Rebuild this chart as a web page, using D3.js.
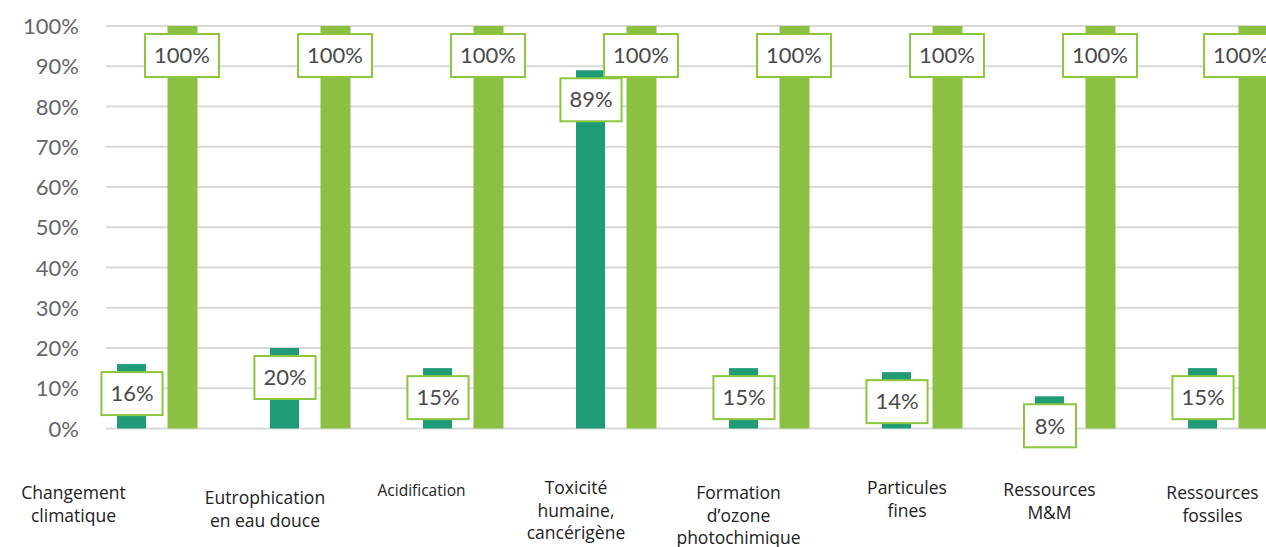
<!DOCTYPE html>
<html><head><meta charset="utf-8">
<script src="https://cdn.jsdelivr.net/npm/d3@7"></script>
<style>html,body{margin:0;padding:0;background:#fff;overflow:hidden}</style>
</head><body><svg id="c" width="1266" height="547"></svg>
<script>
// ---- data ----
const categories = [
  ["Changement", "climatique"],
  ["Eutrophication", "en eau douce"],
  ["Acidification"],
  ["Toxicité", "humaine,", "cancérigène"],
  ["Formation", "d’ozone", "photochimique"],
  ["Particules", "fines"],
  ["Ressources", "M&M"],
  ["Ressources", "fossiles"]
];
const seriesNames = ["Scénario", "Référence"];
const seriesA = [16, 20, 15, 89, 15, 14, 8, 15];
const seriesB = [100, 100, 100, 100, 100, 100, 100, 100];
const yTicks = [0, 10, 20, 30, 40, 50, 60, 70, 80, 90, 100];

// ---- layout (label placement, not data) ----
const labelLayout = [
  {cx: 73.5, y: 493, fs: 17.5},
  {cx: 265, y: 498, fs: 17.5},
  {cx: 421.5, y: 491, fs: 15.5},
  {cx: 576, y: 488, fs: 17.5},
  {cx: 738.5, y: 493, fs: 17.5},
  {cx: 907, y: 488, fs: 17.5},
  {cx: 1049.5, y: 490, fs: 17.5},
  {cx: 1212.5, y: 493, fs: 17.5}
];
const colors = ["#1f9b77", "#8bc043"];
const boxStroke = "#8cc63f";
const chartRight = 1278;

const svg = d3.select("#c");
const keys = categories.map((c, i) => "c" + i);
const x = d3.scaleBand().domain(keys).range([80.5, 80.5 + 153 * 8]);
const xi = d3.scaleBand().domain(seriesNames).range([36.5, 116.5]).paddingInner(0.4).paddingOuter(0);
const y = d3.scaleLinear().domain([0, 100]).range([428.5, 26]);

// gridlines
svg.append("g").selectAll("line").data(yTicks).join("line")
  .attr("x1", 106).attr("x2", 1266)
  .attr("y1", d => y(d)).attr("y2", d => y(d))
  .attr("stroke", "#d9d9d9").attr("stroke-width", 2);

// y axis labels
const yAxis = d3.axisLeft(y).tickValues(yTicks).tickFormat(d => d + "%").tickSize(0).tickPadding(0);
const ga = svg.append("g").attr("transform", "translate(79,0)").call(yAxis);
ga.select(".domain").remove();
ga.selectAll("text").attr("font-family", "Lato, sans-serif").attr("font-size", 22)
  .attr("fill", "#666666").attr("dy", "0.35em");

// bars
const rows = keys.map((k, i) => ({k, vals: [seriesA[i], seriesB[i]]}));
const bars = [];
rows.forEach(r => r.vals.forEach((v, j) => bars.push({k: r.k, s: seriesNames[j], j, v})));
svg.append("g").selectAll("rect").data(bars).join("rect")
  .attr("x", d => x(d.k) + xi(d.s) + (d.j === 1 ? 0.5 : 0))
  .attr("width", d => xi.bandwidth() - (d.j === 0 ? 1 : 0))
  .attr("y", d => y(d.v)).attr("height", d => y(0) - y(d.v))
  .attr("fill", d => colors[d.j]);

// value labels
const lg = svg.append("g");
bars.forEach(d => {
  let cx = x(d.k) + xi(d.s) + xi.bandwidth() / 2;
  const cy = y(d.v) + 29.5;
  const g = lg.append("g");
  const rect = g.append("rect");
  const t = g.append("text").attr("y", cy).attr("dy", "0.35em")
    .attr("text-anchor", "middle").attr("font-family", "Lato, sans-serif")
    .attr("font-size", 22).attr("fill", "#4a4a4a").text(d.v + "%");
  const bb = t.node().getBBox();
  const w = Math.max(bb.width + 18, 52);
  if (cx + w / 2 > chartRight) cx = chartRight - w / 2;
  t.attr("x", cx);
  rect.attr("x", cx - w / 2).attr("y", cy - 21.5).attr("width", w).attr("height", 43)
    .attr("fill", "#fff").attr("stroke", boxStroke).attr("stroke-width", 2);
});

// category labels
svg.append("g").selectAll("text").data(categories).join("text")
  .attr("font-family", "'Open Sans', sans-serif").attr("fill", "#222222")
  .attr("text-anchor", "middle")
  .attr("font-size", (d, i) => labelLayout[i].fs)
  .each(function (lines, i) {
    const L = labelLayout[i];
    d3.select(this).selectAll("tspan").data(lines).join("tspan")
      .attr("x", L.cx).attr("y", (l, k) => L.y + k * 22.5).attr("dy", "0.35em").text(l => l);
  });
</script></body></html>
